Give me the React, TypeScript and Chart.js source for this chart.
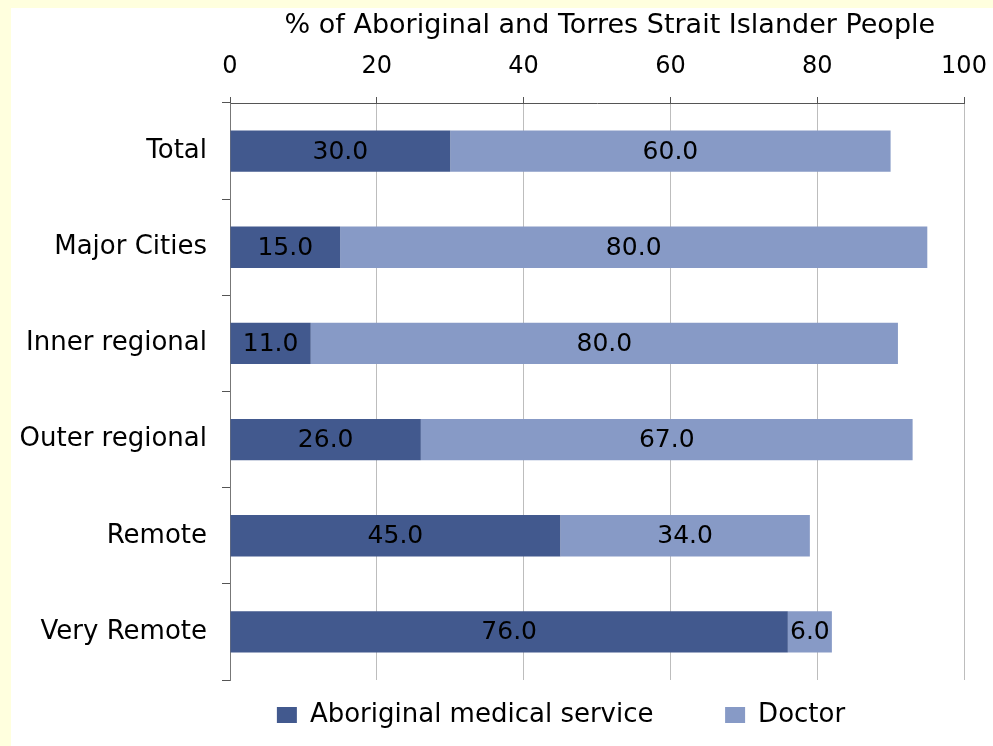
import { useEffect, useRef } from "react";
import { Chart, registerables } from "chart.js";

Chart.register(...registerables);

const categories = ["Total", "Major Cities", "Inner regional", "Outer regional", "Remote", "Very Remote"];
const amsValues = [30, 15, 11, 26, 45, 76];
const doctorValues = [60, 80, 80, 67, 34, 6];
const xTicks = [0, 20, 40, 60, 80, 100];
const seriesNames = ["Aboriginal medical service", "Doctor"];
const axisTitle = "% of Aboriginal and Torres Strait Islander People";

const FAMILY = "'DejaVu Sans', sans-serif";
const DARK = "#42598E";
const LIGHT = "#879AC6";
const LEGEND_SHIFT = 73;

export default function App() {
  const ref = useRef<HTMLCanvasElement>(null);

  useEffect(() => {
    if (!ref.current) return;
    const labelPlugin = {
      id: "segLabels",
      afterLayout(chart: any) {
        const lg = chart.legend;
        if (lg) {
          lg.left += LEGEND_SHIFT;
          lg.right += LEGEND_SHIFT;
        }
      },
      afterDatasetsDraw(chart: any) {
        const ctx = chart.ctx;
        ctx.save();
        ctx.font = `25px ${FAMILY}`;
        ctx.fillStyle = "#000";
        ctx.textAlign = "center";
        ctx.textBaseline = "middle";
        chart.data.datasets.forEach((ds: any, di: number) => {
          const meta = chart.getDatasetMeta(di);
          meta.data.forEach((el: any, i: number) => {
            const v = ds.data[i] as number;
            const x = (el.x + el.base) / 2;
            ctx.fillText(v.toFixed(1), x, el.y + 1);
          });
        });
        ctx.restore();
      },
    };

    const chart = new Chart(ref.current, {
      type: "bar",
      data: {
        labels: categories,
        datasets: [
          {
            label: seriesNames[0],
            data: amsValues,
            backgroundColor: DARK,
            borderWidth: 0,
            categoryPercentage: 1,
            barPercentage: 0.43,
          },
          {
            label: seriesNames[1],
            data: doctorValues,
            backgroundColor: LIGHT,
            borderWidth: 0,
            categoryPercentage: 1,
            barPercentage: 0.43,
          },
        ],
      },
      options: {
        indexAxis: "y",
        responsive: false,
        animation: false,
        layout: { padding: { left: 12, right: 29, top: 8, bottom: 8 } },
        scales: {
          x: {
            position: "top",
            stacked: true,
            min: 0,
            max: 100,
            afterBuildTicks: (s: any) => {
              s.ticks = xTicks.map((v) => ({ value: v }));
            },
            afterFit: (s: any) => {
              s.height = 95;
              s.paddingLeft = 0;
              s.paddingRight = 0;
            },
            ticks: { font: { family: FAMILY, size: 24 }, color: "#000", padding: 16, maxRotation: 0 },
            grid: { color: "#bdbdbd", tickColor: "#555", tickLength: 6, lineWidth: 1 },
            border: { color: "#555", width: 1 },
            title: {
              display: true,
              text: "   " + axisTitle,
              font: { family: FAMILY, size: 27 },
              color: "#000",
              padding: { top: 2, bottom: 0 },
            },
          },
          y: {
            stacked: true,
            afterFit: (s: any) => {
              s.width = 218;
            },
            ticks: { font: { family: FAMILY, size: 26 }, color: "#000", padding: 15 },
            grid: { offset: true, drawOnChartArea: false, tickLength: 8, color: "#555" },
            border: { color: "#777", width: 1 },
          },
        },
        plugins: {
          legend: {
            position: "bottom",
            labels: {
              font: { family: FAMILY, size: 26 },
              color: "#000",
              boxWidth: 20,
              boxHeight: 16,
              padding: 22,
              generateLabels: (chart: any) => {
                const items = (Chart.defaults.plugins.legend.labels as any).generateLabels(chart);
                return items.map((it: any, i: number) => ({
                  ...it,
                  lineWidth: 0,
                  text: i === 0 ? it.text + "      " : it.text,
                }));
              },
            },
          },
          tooltip: { enabled: false },
        },
      } as any,
      plugins: [labelPlugin],
    });
    return () => chart.destroy();
  }, []);

  return (
    <div style={{ position: "fixed", left: 0, top: 0, width: 993, height: 746, background: "#FFFFDE" }}>
      <div style={{ position: "absolute", left: 11, top: 8, right: 0, bottom: 0, background: "#FFFFFF" }} />
      <canvas ref={ref} width={993} height={746} style={{ position: "absolute", left: 0, top: 0 }} />
    </div>
  );
}
